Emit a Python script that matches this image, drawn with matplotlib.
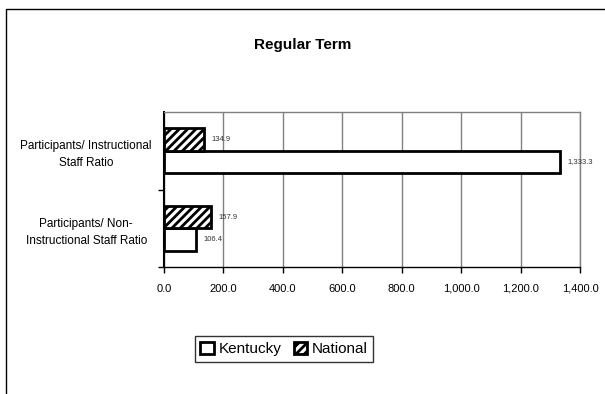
import numpy as np
import matplotlib
matplotlib.use("Agg")
import matplotlib.pyplot as plt
from matplotlib.patches import Rectangle, Patch
from matplotlib.ticker import FuncFormatter, MultipleLocator

categories = ["Participants/ Instructional\nStaff Ratio",
              "Participants/ Non-\nInstructional Staff Ratio"]
kentucky = [1333.3, 106.4]
national = [134.9, 157.9]
series_names = ["Kentucky", "National"]

plt.rcParams['font.family'] = ['Liberation Sans', 'DejaVu Sans']
plt.rcParams['hatch.linewidth'] = 2.0

fig = plt.figure(figsize=(6.05, 3.94), dpi=100)
# outer chart border (runs off the right and bottom edges)
fig.patches.append(Rectangle((6/605, -0.05), 1.2, 1 - 9/394 + 0.05,
                             transform=fig.transFigure, fill=False,
                             edgecolor='black', linewidth=1.0))

ax = fig.add_axes([164/605, (394-267)/394, 416/605, 155/394])

ypos = np.arange(len(categories))[::-1]  # first category on top
h = 0.29
ax.barh(ypos - h/2, kentucky, height=h, color='white', edgecolor='black',
        linewidth=2.0, zorder=3)
ax.barh(ypos + h/2, national, height=h, color='white', edgecolor='black',
        hatch='////', linewidth=2.0, zorder=3)

for y, v in zip(ypos, kentucky):
    ax.text(v + 25, y - h/2, "{:,.1f}".format(v), fontsize=5.5, va='center',
            ha='left', color='#333333')
for y, v in zip(ypos, national):
    ax.text(v + 25, y + h/2, "{:,.1f}".format(v), fontsize=5.5, va='center',
            ha='left', color='#333333')

ax.set_xlim(0, 1400)
ax.set_ylim(-0.5, 1.5)
ax.xaxis.set_major_locator(MultipleLocator(200))
ax.xaxis.set_major_formatter(FuncFormatter(lambda x, p: "{:,.1f}".format(x)))
ax.grid(axis='x', color='#808080', linewidth=1.0, zorder=0)

ax.set_yticks([-0.5, 0.5], minor=False)
ax.set_yticklabels([])
ax.set_yticks(ypos, minor=True)
ax.set_yticklabels(categories, minor=True, fontsize=8.5, ha='center',
                   linespacing=1.55)
ax.tick_params(axis='y', which='minor', length=0, pad=56)
ax.tick_params(axis='y', which='major', length=4, width=1, direction='out')
ax.tick_params(axis='x', length=4, width=1, direction='out', labelsize=8, pad=8)

for s in ['top', 'right']:
    ax.spines[s].set_color('#808080')
    ax.spines[s].set_linewidth(1.0)
ax.spines['left'].set_linewidth(1.5)
ax.spines['bottom'].set_linewidth(1.0)

fig.text(303/605, 1 - 45/394, "Regular Term", ha='center', va='center',
         fontsize=11, fontweight='bold')

handles = [Patch(facecolor='white', edgecolor='black', linewidth=2.0),
           Patch(facecolor='white', edgecolor='black', hatch='////', linewidth=2.0)]
leg = fig.legend(handles, series_names, loc='center', bbox_to_anchor=(284/605, 1 - 349/394),
                 ncol=2, fontsize=11, frameon=True, fancybox=False, handlelength=0.9,
                 handleheight=0.9, handletextpad=0.3, columnspacing=0.8,
                 borderpad=0.35)
leg.get_frame().set_edgecolor('black')
leg.get_frame().set_linewidth(1.0)

fig.savefig("out.png", dpi=100)
